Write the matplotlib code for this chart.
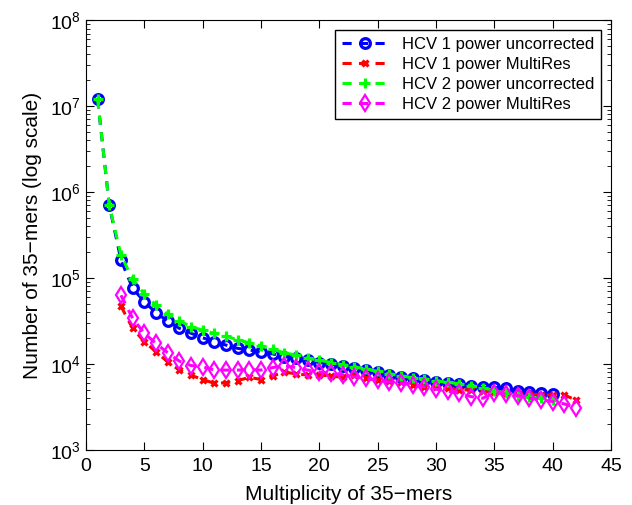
import numpy as np
from matplotlib import pyplot as plt

plt.rcParams['font.family'] = ['Liberation Sans', 'DejaVu Sans']

# Multiplicity values
x_hcv1_unc = list(range(1, 41))
x_hcv1_mr = list(range(3, 43))
x_hcv2_unc = list(range(1, 41))
x_hcv2_mr = list(range(3, 43))

hcv1_uncorrected = [1.2e7, 7.0e5, 1.62e5, 7.6e4, 5.3e4, 3.95e4, 3.16e4, 2.6e4, 2.28e4, 2.02e4,
                    1.82e4, 1.66e4, 1.52e4, 1.46e4, 1.37e4, 1.31e4, 1.22e4, 1.16e4, 1.10e4, 1.04e4,
                    9.9e3, 9.5e3, 9.1e3, 8.5e3, 8.0e3, 7.45e3, 7.1e3, 6.9e3, 6.5e3, 6.2e3,
                    5.96e3, 5.8e3, 5.55e3, 5.35e3, 5.35e3, 5.2e3, 4.9e3, 4.78e3, 4.65e3, 4.47e3]

hcv1_multires = [4.7e4, 2.6e4, 1.82e4, 1.39e4, 1.06e4, 8.5e3, 7.4e3, 6.6e3,
                 5.96e3, 6.05e3, 6.4e3, 7.0e3, 6.6e3, 7.25e3, 8.1e3, 7.65e3, 7.45e3, 7.45e3,
                 7.25e3, 7.0e3, 7.45e3, 6.8e3, 6.5e3, 6.3e3, 6.2e3, 5.7e3, 5.45e3, 5.45e3,
                 5.2e3, 5.0e3, 5.0e3, 4.8e3, 4.75e3, 4.65e3, 4.55e3, 4.45e3, 4.4e3, 4.35e3,
                 4.35e3, 3.8e3]

hcv2_uncorrected = [1.2e7, 7.0e5, 1.85e5, 9.7e4, 6.5e4, 4.85e4, 3.8e4, 3.2e4, 2.7e4, 2.48e4,
                    2.27e4, 2.12e4, 1.9e4, 1.77e4, 1.62e4, 1.48e4, 1.35e4, 1.27e4, 1.16e4, 1.11e4,
                    1.04e4, 9.8e3, 9.3e3, 8.7e3, 8.2e3, 7.7e3, 7.3e3, 6.9e3, 6.7e3, 6.4e3,
                    6.1e3, 5.9e3, 5.6e3, 5.3e3, 4.9e3, 4.6e3, 4.3e3, 4.1e3, 4.0e3, 3.85e3]

hcv2_multires = [6.3e4, 3.4e4, 2.27e4, 1.74e4, 1.35e4, 1.08e4, 9.6e3, 9.3e3,
                 8.5e3, 8.5e3, 8.5e3, 8.6e3, 8.5e3, 9.1e3, 9.5e3, 9.1e3, 8.5e3, 8.1e3,
                 7.8e3, 7.5e3, 7.1e3, 6.8e3, 6.5e3, 6.2e3, 5.96e3, 5.7e3, 5.45e3, 5.1e3,
                 4.8e3, 4.57e3, 4.17e3, 4.0e3, 4.65e3, 4.45e3, 4.3e3, 4.0e3, 3.83e3, 3.66e3,
                 3.43e3, 3.1e3]

dash = (0, (3.0, 2.4))

fig = plt.figure(figsize=(6.32, 5.05), dpi=100)
ax = fig.add_axes([0.136, 0.109, 0.831, 0.851])

ax.plot(x_hcv1_unc, hcv1_uncorrected, color='#0000ff', linestyle=dash, linewidth=2.2,
        marker='o', markersize=7, markerfacecolor='none', markeredgewidth=2.3,
        label='HCV 1 power uncorrected')
ax.plot(x_hcv1_mr, hcv1_multires, color='#ff0000', linestyle=dash, linewidth=2.2,
        marker='x', markersize=4.5, markeredgewidth=2.3,
        label='HCV 1 power MultiRes')
ax.plot(x_hcv2_unc, hcv2_uncorrected, color='#00ff00', linestyle=dash, linewidth=2.2,
        marker='+', markersize=7.5, markeredgewidth=2.3,
        label='HCV 2 power uncorrected')
ax.plot(x_hcv2_mr, hcv2_multires, color='#ff00ff', linestyle=dash, linewidth=2.2,
        marker='d', markersize=8.5, markerfacecolor='none', markeredgewidth=1.6,
        label='HCV 2 power MultiRes')

ax.set_yscale('log')
ax.set_xlim(0, 45)
ax.set_ylim(1e3, 1e8)
ax.set_xticks(np.arange(0, 46, 5))
ax.tick_params(which='both', direction='in', top=True, right=True, labelsize=14)
ax.tick_params(which='major', length=6)
ax.tick_params(which='minor', length=3)
ax.tick_params(axis='x', pad=6)

ax.set_xlabel('Multiplicity of 35\u2212mers', fontsize=15, labelpad=7)
ax.set_ylabel('Number of 35\u2212mers (log scale)', fontsize=15, labelpad=6)

leg = ax.legend(loc='upper right', fontsize=12, fancybox=False, framealpha=1,
                edgecolor='black', handlelength=2.8, labelspacing=0.3,
                borderaxespad=0.6, handletextpad=0.8)
leg.get_frame().set_linewidth(1.0)

fig.savefig('out.png', dpi=100)
